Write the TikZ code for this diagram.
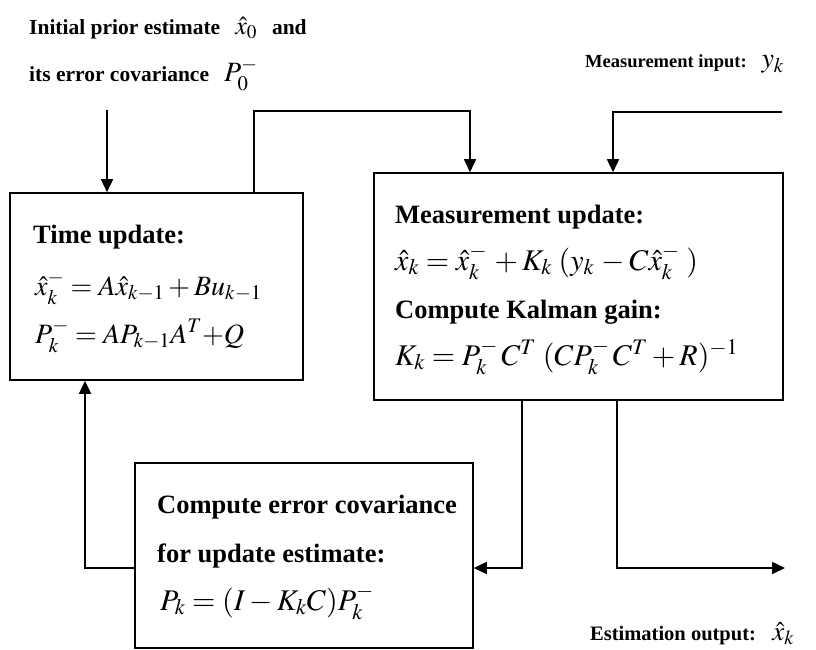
\documentclass[tikz,border=0pt]{standalone}
\usepackage{mathptmx}
\usepackage[no-math]{fontspec}
\setmainfont{Liberation Serif}
\usetikzlibrary{arrows.meta}
\begin{document}
\begin{tikzpicture}[x=1pt,y=-1pt,
  box/.style={draw, line width=1.6pt, inner sep=0pt},
  ttl/.style={anchor=base west, inner sep=0pt, font=\fontsize{26.5}{30}\selectfont\bfseries},
  lbl/.style={anchor=base west, inner sep=0pt, font=\fontsize{21.5}{26}\selectfont\bfseries},
  eqn/.style={anchor=base west, inner sep=0pt, font=\fontsize{30}{34}\selectfont},
  teqn/.style={anchor=base west, inner sep=0pt, font=\fontsize{28}{32}\selectfont},
  conn/.style={line width=1.6pt},
  arr/.style={conn, -{Triangle[length=13pt,width=12pt]}}]
\useasboundingbox[fill=white] (0,0) rectangle (816,650);

% boxes
\node[box, minimum width=293pt, minimum height=187pt] (tu) at (156.5,286.5) {};
\node[box, minimum width=409pt, minimum height=227pt] (mu) at (578.5,286.5) {};
\node[box, minimum width=338pt, minimum height=185pt] (ec) at (304,555.5) {};

% top labels
\node[lbl] (l1) at (29,35) {Initial prior estimate\hspace{0.7em}{\fontsize{26}{28}\selectfont$\hat{x}_0$}\hspace{0.7em}and};
\node[lbl] (l2) at (29,82) {its error covariance\hspace{0.7em}{\fontsize{28}{30}\selectfont$P_0^-$}};
\node[lbl, font=\fontsize{18.5}{22}\selectfont\bfseries] (l3) at (585,68) {Measurement input:\hspace{0.8em}{\fontsize{28}{30}\selectfont$y_k$}};
\node[lbl, font=\fontsize{20.5}{24}\selectfont\bfseries] (l4) at (590,640) {Estimation output:\hspace{0.8em}{\fontsize{27}{30}\selectfont$\hat{x}_k$}};

% time update
\node[ttl] (t1) at (33,243) {Time update:};
\node[teqn] (t2) at (35,295) {$\hat{x}_k^- = A\hat{x}_{k-1} + Bu_{k-1}$};
\node[teqn] (t3) at (35,343) {$P_k^- = AP_{k-1}A^T {+}Q$};

% measurement update
\node[ttl] (m1) at (395,223) {Measurement update:};
\node[eqn] (m2) at (395,270) {$\hat{x}_k = \hat{x}_k^-\, + K_k\;(y_k\, - C\hat{x}_k^-\;)$};
\node[ttl] (m3) at (395,318) {Compute Kalman gain:};
\node[eqn] (m4) at (395,365) {$K_k = P_k^-\, C^T\;(CP_k^-\, C^T + R)^{-1}$};

% error covariance
\node[ttl] (e1) at (157,513) {Compute error covariance};
\node[ttl] (e2) at (157,562) {for update estimate:};
\node[eqn] (e3) at (160,610) {$P_k = (I - K_k C)P_k^-$};

% connectors
\coordinate (init) at (107,110);
\draw[arr] (init) -- (init |- tu.north);

\coordinate (tA) at (254,111);
\coordinate (mA) at (470,111);
\draw[arr] (tu.north -| tA) -- (tA) -- (mA) -- (mA |- mu.north);

\coordinate (yin) at (782,112);
\coordinate (mB) at (613,112);
\draw[arr] (yin) -- (mB) -- (mB |- mu.north);

\coordinate (c1) at (522,568);
\draw[arr] (mu.south -| c1) -- (c1) -- (c1 -| ec.east);

\coordinate (c2) at (617,568);
\coordinate (out) at (785,568);
\draw[arr] (mu.south -| c2) -- (c2) -- (out);

\coordinate (c3) at (85,568);
\draw[arr] (ec.west |- c3) -- (c3) -- (c3 |- tu.south);
\end{tikzpicture}
\end{document}
